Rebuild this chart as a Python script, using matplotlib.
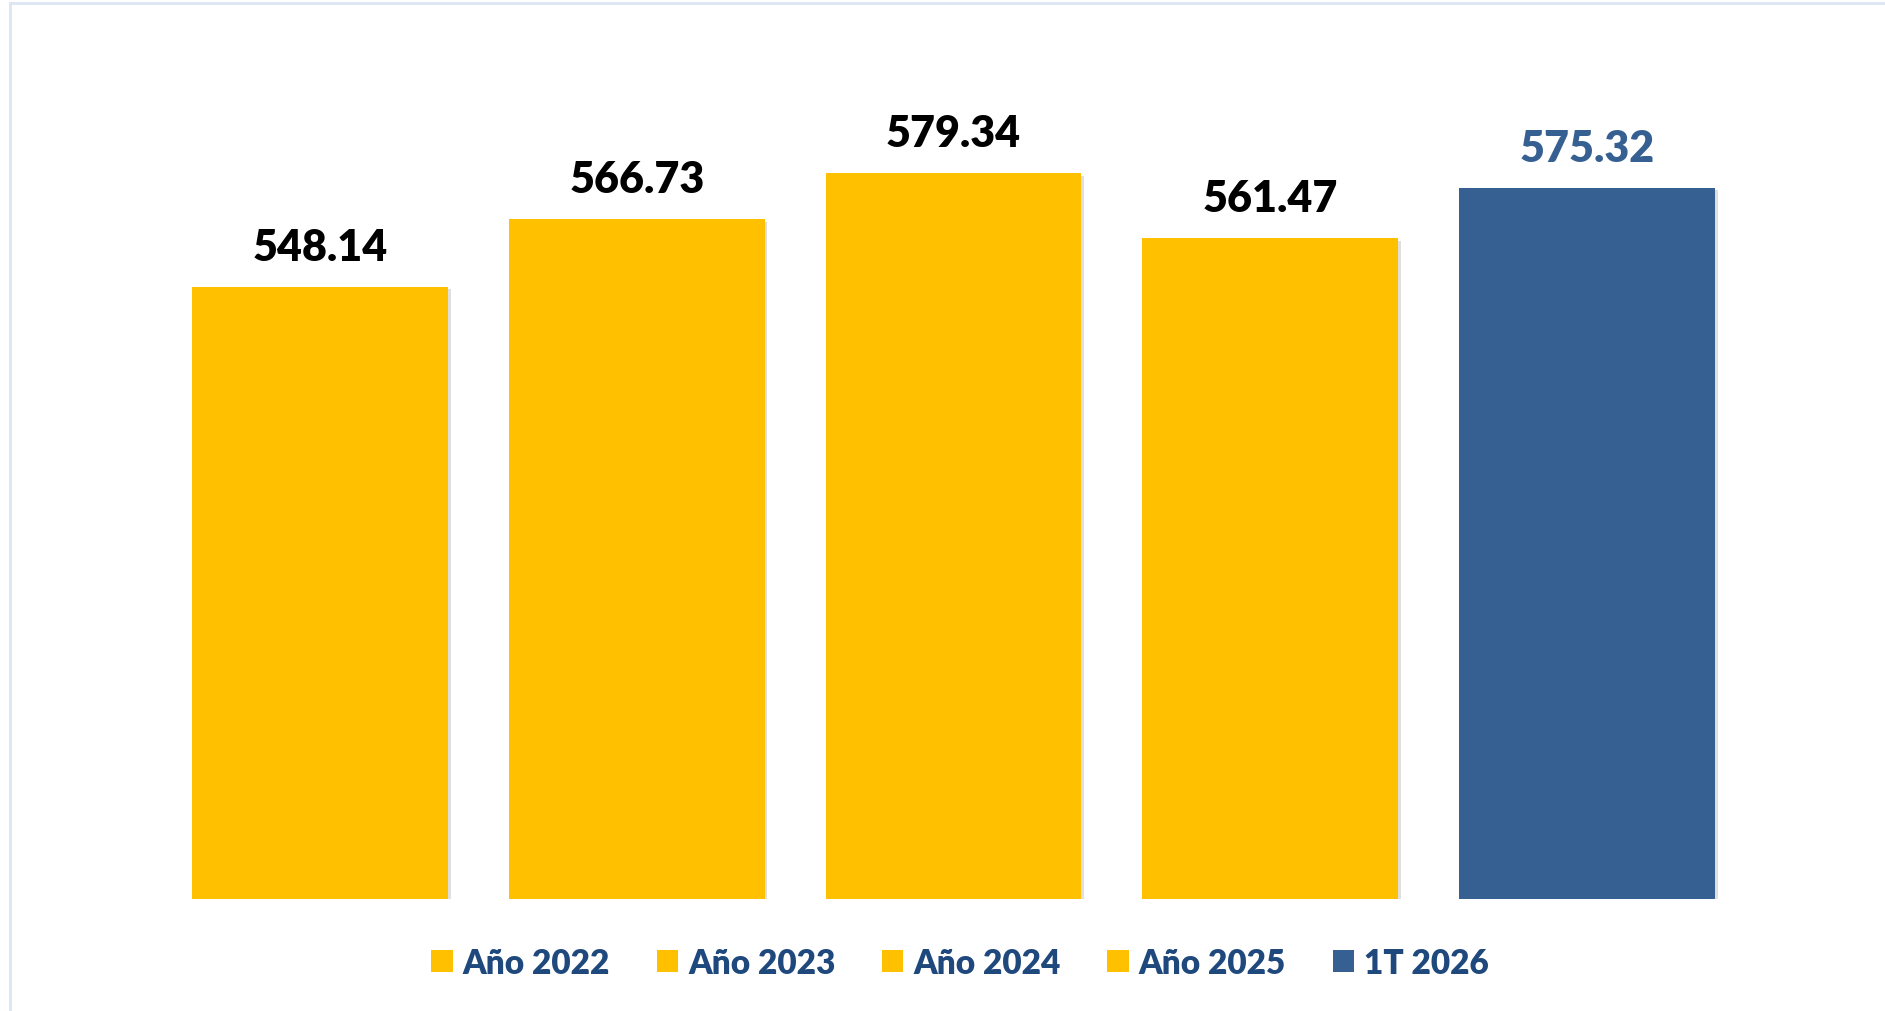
import matplotlib.pyplot as plt
import matplotlib.patheffects as pe
from matplotlib.lines import Line2D
from matplotlib.patches import Patch

# datos del gráfico
categorias = ["Año 2022", "Año 2023", "Año 2024", "Año 2025", "1T 2026"]
valores = [548.14, 566.73, 579.34, 561.47, 575.32]
colores = ["#FFC000", "#FFC000", "#FFC000", "#FFC000", "#376092"]
color_etiqueta = ["#000000", "#000000", "#000000", "#000000", "#376092"]

plt.rcParams["font.family"] = ["Lato", "DejaVu Sans"]

W, H = 1885, 1012
fig = plt.figure(figsize=(W / 100, H / 100), dpi=100)

# área del gráfico (en píxeles de la figura)
izq, der, abajo, arriba = 161.6, 1745.4, 900, 26
ax = fig.add_axes([izq / W, 1 - abajo / H, (der - izq) / W, (abajo - arriba) / H])

x = range(len(valores))
barras = ax.bar(x, valores, width=0.808, color=colores, zorder=2)
for b in barras:
    b.set_path_effects([pe.SimplePatchShadow(offset=(2, -2), shadow_rgbFace="gray", alpha=0.25),
                        pe.Normal()])

for i, v in enumerate(valores):
    ax.annotate(f"{v:.2f}", (i, v), xytext=(0, 20), textcoords="offset pixels",
                ha="center", va="bottom", fontsize=31, fontweight="heavy",
                color=color_etiqueta[i])

ax.set_xlim(-0.5, 4.5)
ax.set_ylim(380, 620)
ax.axis("off")

# leyenda
handles = [Patch(facecolor=c, edgecolor="none") for c in colores]
leg = fig.legend(handles, categorias, loc="center", ncol=5,
                 bbox_to_anchor=(960 / W, 1 - 964 / H), frameon=False,
                 prop={"size": 24, "weight": "heavy"},
                 handlelength=0.64, handleheight=0.64, handletextpad=0.3,
                 columnspacing=1.4)
for t in leg.get_texts():
    t.set_color("#1F497D")

# borde claro del marco
fig.add_artist(Line2D([10 / W, 10 / W], [0, 1 - 4 / H], color="#DCE6F2", lw=2))
fig.add_artist(Line2D([10 / W, 1], [1 - 4 / H, 1 - 4 / H], color="#DCE6F2", lw=2))

fig.savefig("out.png", dpi=100)
